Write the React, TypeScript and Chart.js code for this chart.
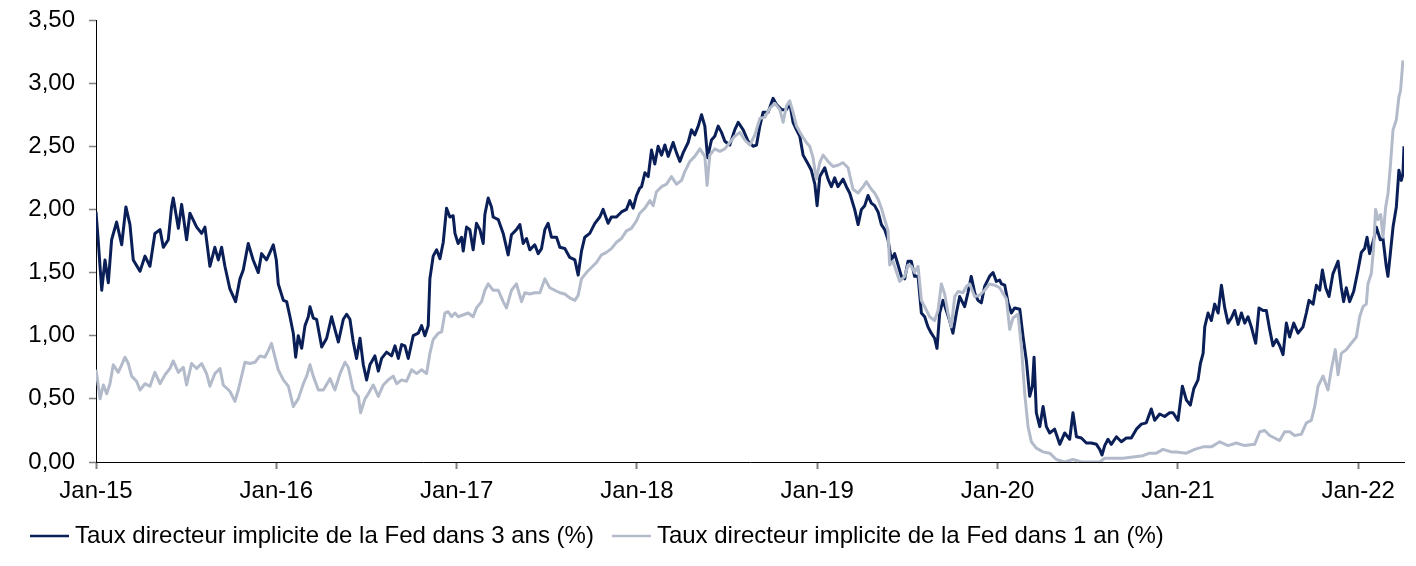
import React, { useEffect, useRef } from 'react';
import { Chart, registerables } from 'chart.js';
Chart.register(...registerables);

const FONT = '"Liberation Sans", Arial, Helvetica, sans-serif';

// x positions: months elapsed since January 2015
const xTickMonths = [0, 12, 24, 36, 48, 60, 72, 84];
const xTickLabels = ['Jan-15', 'Jan-16', 'Jan-17', 'Jan-18', 'Jan-19', 'Jan-20', 'Jan-21', 'Jan-22'];

const label3 = 'Taux directeur implicite de la Fed dans 3 ans (%)';
const label1 = 'Taux directeur implicite de la Fed dans 1 an (%)';

const months3 = [
  0, 0.15, 0.38, 0.6, 0.82, 1.04, 1.37, 1.71, 1.99, 2.26,
  2.48, 2.93, 3.26, 3.59, 3.92, 4.26, 4.48, 4.81, 5.03, 5.14,
  5.48, 5.7, 6.03, 6.25, 6.7, 7.03, 7.25, 7.58, 7.91, 8.14,
  8.36, 8.58, 8.91, 9.29, 9.58, 9.8, 10.13, 10.46, 10.8, 11.02,
  11.35, 11.58, 11.8, 12.0, 12.13, 12.47, 12.69, 12.91, 13.13, 13.29,
  13.46, 13.69, 13.91, 14.13, 14.24, 14.46, 14.68, 15.02, 15.35, 15.68,
  15.9, 16.13, 16.46, 16.68, 16.9, 17.12, 17.34, 17.57, 17.79, 18.01,
  18.23, 18.56, 18.79, 19.01, 19.34, 19.67, 19.9, 20.12, 20.34, 20.56,
  20.78, 21.11, 21.45, 21.67, 21.89, 22.11, 22.22, 22.44, 22.67, 22.89,
  23.11, 23.33, 23.55, 23.77, 23.89, 24.1, 24.33, 24.44, 24.66, 24.88,
  25.1, 25.32, 25.55, 25.77, 25.88, 26.1, 26.32, 26.43, 26.77, 27.1,
  27.43, 27.65, 27.98, 28.21, 28.43, 28.65, 28.87, 29.2, 29.43, 29.65,
  29.87, 30.09, 30.31, 30.65, 30.87, 31.2, 31.53, 31.87, 32.09, 32.31,
  32.53, 32.86, 33.2, 33.53, 33.75, 34.08, 34.3, 34.64, 34.97, 35.3,
  35.53, 35.75, 35.97, 36.19, 36.31, 36.53, 36.75, 36.97, 37.19, 37.41,
  37.64, 37.86, 38.08, 38.41, 38.63, 38.86, 39.08, 39.41, 39.63, 39.85,
  40.08, 40.3, 40.52, 40.7, 40.96, 41.18, 41.41, 41.63, 41.85, 42.18,
  42.51, 42.74, 43.07, 43.4, 43.73, 43.96, 44.18, 44.4, 44.73, 45.06,
  45.29, 45.62, 45.95, 46.17, 46.39, 46.62, 46.84, 47.06, 47.39, 47.61,
  47.84, 47.99, 48.17, 48.5, 48.72, 48.94, 49.16, 49.38, 49.72, 49.94,
  50.16, 50.49, 50.72, 50.94, 51.16, 51.38, 51.6, 51.82, 52.05, 52.27,
  52.49, 52.71, 52.93, 53.15, 53.38, 53.6, 53.82, 54.04, 54.26, 54.48,
  54.71, 54.93, 55.15, 55.37, 55.59, 55.81, 55.97, 56.15, 56.37, 56.59,
  56.81, 57.03, 57.26, 57.48, 57.81, 58.03, 58.25, 58.48, 58.7, 58.92,
  59.14, 59.47, 59.7, 59.92, 60.14, 60.26, 60.48, 60.7, 60.92, 61.14,
  61.48, 61.7, 61.92, 62.14, 62.32, 62.43, 62.58, 62.81, 63.03, 63.25,
  63.47, 63.8, 64.14, 64.47, 64.8, 65.02, 65.25, 65.58, 65.91, 66.24,
  66.58, 66.8, 66.95, 67.13, 67.35, 67.57, 67.91, 68.24, 68.57, 68.9,
  69.24, 69.57, 69.9, 70.23, 70.46, 70.79, 71.12, 71.45, 71.68, 72.01,
  72.3, 72.57, 72.83, 73.06, 73.34, 73.5, 73.68, 73.79, 74.01, 74.23,
  74.45, 74.68, 74.9, 75.12, 75.34, 75.56, 75.78, 76.01, 76.23, 76.45,
  76.67, 76.89, 77.18, 77.4, 77.67, 77.89, 78.11, 78.33, 78.56, 78.78,
  79.0, 79.22, 79.44, 79.71, 80.0, 80.33, 80.55, 80.73, 81.0, 81.22,
  81.44, 81.62, 81.84, 82.06, 82.32, 82.66, 82.88, 83.03, 83.21, 83.43,
  83.7, 83.99, 84.21, 84.43, 84.59, 84.76, 85.03, 85.21, 85.47, 85.65,
  85.87, 85.98, 86.14, 86.32, 86.54, 86.71, 86.87, 86.98, 87.05,
];
const rate3 = [
  1.98, 1.75, 1.36, 1.60, 1.42, 1.76, 1.90, 1.72, 2.02, 1.88,
  1.60, 1.51, 1.63, 1.55, 1.81, 1.84, 1.70, 1.76, 2.02, 2.09,
  1.85, 2.04, 1.76, 1.97, 1.86, 1.81, 1.86, 1.55, 1.70, 1.60,
  1.70, 1.55, 1.37, 1.27, 1.45, 1.52, 1.73, 1.60, 1.50, 1.65,
  1.60, 1.66, 1.72, 1.60, 1.41, 1.28, 1.27, 1.15, 1.02, 0.83,
  1.00, 0.90, 1.08, 1.15, 1.23, 1.14, 1.13, 0.91, 0.98, 1.15,
  1.05, 0.95, 1.13, 1.17, 1.13, 0.95, 0.82, 0.98, 0.77, 0.65,
  0.77, 0.84, 0.72, 0.82, 0.87, 0.84, 0.92, 0.82, 0.93, 0.92,
  0.82, 1.00, 1.02, 1.08, 1.00, 1.08, 1.45, 1.63, 1.68, 1.61,
  1.74, 2.01, 1.94, 1.95, 1.81, 1.73, 1.78, 1.67, 1.86, 1.84,
  1.68, 1.89, 1.84, 1.73, 1.96, 2.09, 2.02, 1.94, 1.92, 1.81,
  1.64, 1.80, 1.84, 1.88, 1.73, 1.77, 1.68, 1.72, 1.65, 1.69,
  1.84, 1.89, 1.78, 1.78, 1.70, 1.69, 1.62, 1.60, 1.48, 1.67,
  1.78, 1.81, 1.89, 1.94, 2.00, 1.89, 1.94, 1.94, 1.98, 2.00,
  2.07, 2.01, 2.11, 2.17, 2.18, 2.29, 2.26, 2.47, 2.36, 2.50,
  2.43, 2.51, 2.42, 2.53, 2.45, 2.38, 2.45, 2.53, 2.63, 2.59,
  2.66, 2.75, 2.66, 2.41, 2.55, 2.58, 2.66, 2.61, 2.54, 2.51,
  2.63, 2.69, 2.63, 2.54, 2.50, 2.51, 2.66, 2.77, 2.77, 2.88,
  2.83, 2.79, 2.79, 2.84, 2.69, 2.63, 2.58, 2.43, 2.36, 2.31,
  2.20, 2.03, 2.26, 2.33, 2.24, 2.18, 2.25, 2.18, 2.24, 2.18,
  2.13, 2.00, 1.88, 2.00, 2.03, 2.11, 2.05, 2.03, 1.98, 1.88,
  1.84, 1.76, 1.60, 1.65, 1.56, 1.47, 1.45, 1.59, 1.59, 1.47,
  1.47, 1.18, 1.15, 1.07, 1.02, 0.98, 0.90, 1.18, 1.28, 1.20,
  1.12, 1.02, 1.18, 1.31, 1.23, 1.34, 1.47, 1.34, 1.28, 1.26,
  1.39, 1.47, 1.50, 1.43, 1.44, 1.41, 1.40, 1.26, 1.18, 1.22,
  1.21, 0.99, 0.80, 0.52, 0.60, 0.83, 0.39, 0.28, 0.44, 0.28,
  0.23, 0.26, 0.14, 0.23, 0.18, 0.39, 0.20, 0.19, 0.15, 0.15,
  0.14, 0.10, 0.055, 0.13, 0.18, 0.14, 0.20, 0.16, 0.19, 0.19,
  0.26, 0.30, 0.31, 0.42, 0.33, 0.38, 0.36, 0.39, 0.39, 0.33,
  0.60, 0.49, 0.45, 0.58, 0.65, 0.78, 0.86, 1.07, 1.18, 1.12,
  1.25, 1.18, 1.40, 1.22, 1.10, 1.14, 1.20, 1.09, 1.18, 1.10,
  1.15, 1.07, 0.94, 1.22, 1.20, 1.20, 1.05, 0.92, 0.97, 0.92,
  0.85, 1.10, 0.99, 1.10, 1.02, 1.07, 1.18, 1.28, 1.25, 1.40,
  1.36, 1.52, 1.38, 1.31, 1.49, 1.59, 1.38, 1.27, 1.38, 1.27,
  1.35, 1.52, 1.66, 1.69, 1.78, 1.65, 1.76, 1.86, 1.76, 1.77,
  1.55, 1.47, 1.65, 1.86, 2.02, 2.31, 2.23, 2.28, 2.50,
];

const months1 = [
  0, 0.1, 0.27, 0.49, 0.71, 0.93, 1.15, 1.48, 1.71, 1.93,
  2.15, 2.37, 2.7, 2.93, 3.26, 3.59, 3.92, 4.26, 4.59, 4.92,
  5.14, 5.48, 5.81, 6.03, 6.36, 6.7, 7.03, 7.36, 7.58, 7.91,
  8.25, 8.47, 8.91, 9.25, 9.47, 9.91, 10.24, 10.58, 10.91, 11.24,
  11.46, 11.68, 11.91, 12.13, 12.47, 12.8, 13.13, 13.46, 13.8, 14.02,
  14.24, 14.46, 14.8, 15.13, 15.57, 15.9, 16.24, 16.57, 16.79, 17.12,
  17.46, 17.61, 17.9, 18.12, 18.45, 18.79, 19.12, 19.45, 19.78, 20.01,
  20.34, 20.67, 21.0, 21.34, 21.67, 22.0, 22.22, 22.44, 22.78, 23.0,
  23.22, 23.44, 23.66, 23.89, 24.11, 24.33, 24.77, 25.1, 25.32, 25.66,
  25.88, 26.1, 26.43, 26.77, 27.1, 27.32, 27.65, 27.98, 28.32, 28.54,
  28.87, 29.2, 29.54, 29.87, 30.2, 30.53, 30.87, 31.2, 31.53, 31.87,
  32.09, 32.31, 32.64, 32.97, 33.31, 33.64, 33.97, 34.3, 34.64, 34.97,
  35.3, 35.63, 35.97, 36.19, 36.53, 36.86, 37.08, 37.3, 37.64, 37.97,
  38.3, 38.63, 38.97, 39.19, 39.52, 39.85, 40.19, 40.52, 40.67, 40.85,
  41.18, 41.52, 41.85, 42.18, 42.51, 42.85, 43.18, 43.51, 43.85, 44.18,
  44.51, 44.84, 45.18, 45.51, 45.73, 45.95, 46.17, 46.39, 46.62, 46.95,
  47.28, 47.5, 47.72, 47.94, 48.17, 48.39, 48.72, 49.05, 49.38, 49.72,
  50.05, 50.38, 50.72, 51.05, 51.27, 51.6, 51.82, 52.05, 52.27, 52.49,
  52.71, 52.82, 53.04, 53.26, 53.49, 53.82, 54.04, 54.26, 54.48, 54.71,
  54.93, 55.15, 55.48, 55.81, 56.04, 56.26, 56.48, 56.7, 56.92, 57.15,
  57.37, 57.7, 57.92, 58.14, 58.48, 58.81, 59.14, 59.47, 59.81, 60.14,
  60.59, 60.81, 61.03, 61.36, 61.59, 61.81, 62.03, 62.25, 62.58, 63.03,
  63.47, 63.91, 64.47, 65.02, 65.58, 66.13, 66.8, 67.13, 67.68, 68.35,
  69.01, 69.68, 70.12, 70.57, 71.01, 71.56, 71.9, 72.57, 73.12, 73.68,
  74.23, 74.79, 75.34, 75.89, 76.45, 77.11, 77.45, 77.78, 78.11, 78.44,
  78.78, 79.11, 79.44, 79.77, 80.22, 80.55, 80.88, 81.11, 81.33, 81.66,
  81.99, 82.21, 82.48, 82.66, 82.88, 83.21, 83.54, 83.88, 84.1, 84.32,
  84.54, 84.65, 84.87, 85.03, 85.16, 85.32, 85.5, 85.65, 85.83, 85.98,
  86.14, 86.32, 86.54, 86.71, 86.82, 86.98,
];
const rate1 = [
  0.73, 0.65, 0.50, 0.61, 0.54, 0.62, 0.77, 0.71, 0.77, 0.83,
  0.78, 0.68, 0.64, 0.57, 0.62, 0.60, 0.71, 0.62, 0.69, 0.74,
  0.80, 0.71, 0.75, 0.61, 0.78, 0.74, 0.78, 0.70, 0.60, 0.70,
  0.74, 0.61, 0.56, 0.48, 0.57, 0.79, 0.78, 0.79, 0.84, 0.83,
  0.88, 0.94, 0.83, 0.73, 0.65, 0.60, 0.44, 0.50, 0.62, 0.68,
  0.77, 0.68, 0.57, 0.57, 0.66, 0.57, 0.70, 0.79, 0.75, 0.57,
  0.52, 0.39, 0.50, 0.54, 0.61, 0.52, 0.61, 0.65, 0.68, 0.62,
  0.65, 0.64, 0.73, 0.70, 0.73, 0.70, 0.86, 0.97, 1.02, 1.03,
  1.18, 1.19, 1.15, 1.18, 1.15, 1.16, 1.18, 1.15, 1.22, 1.27,
  1.36, 1.41, 1.36, 1.36, 1.27, 1.22, 1.36, 1.41, 1.27, 1.34,
  1.33, 1.34, 1.34, 1.45, 1.38, 1.36, 1.34, 1.33, 1.30, 1.28,
  1.32, 1.45, 1.50, 1.54, 1.58, 1.64, 1.66, 1.69, 1.74, 1.77,
  1.83, 1.85, 1.91, 1.97, 2.01, 2.07, 2.03, 2.14, 2.18, 2.20,
  2.26, 2.20, 2.23, 2.30, 2.38, 2.42, 2.48, 2.42, 2.19, 2.43,
  2.48, 2.46, 2.48, 2.53, 2.58, 2.61, 2.55, 2.51, 2.59, 2.72,
  2.73, 2.80, 2.84, 2.79, 2.69, 2.82, 2.86, 2.77, 2.66, 2.59,
  2.53, 2.50, 2.41, 2.24, 2.37, 2.43, 2.38, 2.34, 2.35, 2.37,
  2.33, 2.16, 2.13, 2.18, 2.22, 2.16, 2.13, 2.08, 2.01, 1.92,
  1.83, 1.56, 1.59, 1.51, 1.43, 1.47, 1.56, 1.55, 1.50, 1.55,
  1.28, 1.23, 1.15, 1.12, 1.20, 1.41, 1.33, 1.18, 1.07, 1.31,
  1.35, 1.34, 1.39, 1.41, 1.31, 1.32, 1.36, 1.41, 1.40, 1.38,
  1.29, 1.05, 1.14, 1.17, 0.91, 0.54, 0.28, 0.16, 0.11, 0.08,
  0.07, 0.02, 0.00, 0.02, 0.00, 0.00, 0.00, 0.03, 0.03, 0.03,
  0.04, 0.05, 0.07, 0.07, 0.10, 0.08, 0.08, 0.07, 0.10, 0.12,
  0.12, 0.16, 0.13, 0.15, 0.13, 0.14, 0.24, 0.25, 0.21, 0.19,
  0.17, 0.24, 0.24, 0.21, 0.22, 0.31, 0.33, 0.44, 0.60, 0.68,
  0.57, 0.73, 0.89, 0.69, 0.86, 0.89, 0.94, 0.99, 1.15, 1.23,
  1.25, 1.41, 1.49, 1.70, 2.00, 1.92, 1.96, 1.78, 2.02, 2.12,
  2.34, 2.63, 2.71, 2.89, 2.94, 3.18,
];

const yMin = 0;
const yMax = 3.5;
const yStep = 0.5;
const xMin = 0;
const xMax = 87.05;

const DARK = '#0a1f58';
const LIGHT = '#b3bbcb';

const legendPlugin = {
  id: 'bottomLegend',
  afterDraw(chart: any) {
    const ctx = chart.ctx;
    ctx.save();
    ctx.font = `24px ${FONT}`;
    ctx.textBaseline = 'alphabetic';
    ctx.textAlign = 'left';
    let x = 30;
    const baseline = 543;
    const lineY = 536;
    chart.data.datasets.forEach((ds: any) => {
      ctx.strokeStyle = ds.borderColor;
      ctx.lineWidth = 2.5;
      ctx.beginPath();
      ctx.moveTo(x, lineY);
      ctx.lineTo(x + 39, lineY);
      ctx.stroke();
      ctx.fillStyle = '#000';
      ctx.fillText(ds.label, x + 45, baseline);
      x += 45 + ctx.measureText(ds.label).width + 18;
    });
    ctx.restore();
  },
};

export default function App() {
  const ref = useRef<HTMLCanvasElement | null>(null);
  useEffect(() => {
    if (!ref.current) return;
    const d3 = months3.map((m, i) => ({ x: m, y: rate3[i] }));
    const d1 = months1.map((m, i) => ({ x: m, y: rate1[i] }));
    const chart = new Chart(ref.current, {
      type: 'line',
      data: {
        datasets: [
          { label: label3, data: d3, borderColor: DARK, backgroundColor: DARK, borderWidth: 3, pointRadius: 0, tension: 0, order: 2, borderJoinStyle: 'round' },
          { label: label1, data: d1, borderColor: LIGHT, backgroundColor: LIGHT, borderWidth: 3, pointRadius: 0, tension: 0, order: 1, borderJoinStyle: 'round' },
        ],
      },
      options: {
        animation: false,
        responsive: true,
        maintainAspectRatio: false,
        layout: { padding: { left: 0, top: 20, right: 12, bottom: 0 } },
        plugins: { legend: { display: false }, tooltip: { enabled: false } },
        scales: {
          x: {
            type: 'linear',
            min: xMin,
            max: xMax,
            afterBuildTicks: (s: any) => { s.ticks = xTickMonths.map((v) => ({ value: v })); },
            afterFit: (s: any) => { s.height = 104; },
            ticks: {
              autoSkip: false,
              maxRotation: 0,
              padding: 8,
              color: '#000',
              font: { family: FONT, size: 24 },
              callback: (v: any) => xTickLabels[Math.round(Number(v) / 12)],
            },
            grid: { drawOnChartArea: false, drawTicks: true, tickLength: 7, tickColor: '#808080', tickWidth: 2 },
            border: { color: '#000', width: 1 },
          },
          y: {
            min: yMin,
            max: yMax,
            afterFit: (s: any) => { s.width = 96; s.paddingTop = 0; s.paddingBottom = 0; },
            ticks: {
              stepSize: yStep,
              padding: 14,
              color: '#000',
              font: { family: FONT, size: 24 },
              callback: (v: any) => Number(v).toFixed(2).replace('.', ','),
            },
            grid: { drawOnChartArea: false, drawTicks: true, tickLength: 7, tickColor: '#808080', tickWidth: 1.5 },
            border: { color: '#000', width: 1 },
          },
        },
      },
      plugins: [legendPlugin],
    });
    return () => chart.destroy();
  }, []);
  return (
    <div style={{ position: 'fixed', left: 0, top: 0, width: 1416, height: 566, background: '#fff' }}>
      <canvas ref={ref} />
    </div>
  );
}
